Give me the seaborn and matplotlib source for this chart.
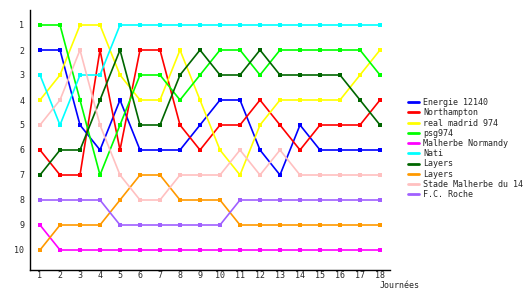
import matplotlib
matplotlib.use("Agg")
import matplotlib.pyplot as plt
import seaborn as sns
import pandas as pd
from matplotlib.lines import Line2D

days = list(range(1, 19))
team_names = ["Energie 12140", "Northampton", "real madrid 974", "psg974",
              "Malherbe Normandy", "Nati", "Layers", "Layers",
              "Stade Malherbe du 14", "F.C. Roche"]
energie = [2, 2, 5, 6, 4, 6, 6, 6, 5, 4, 4, 6, 7, 5, 6, 6, 6, 6]
northampton = [6, 7, 7, 2, 6, 2, 2, 5, 6, 5, 5, 4, 5, 6, 5, 5, 5, 4]
real_madrid = [4, 3, 1, 1, 3, 4, 4, 2, 4, 6, 7, 5, 4, 4, 4, 4, 3, 2]
psg = [1, 1, 4, 7, 5, 3, 3, 4, 3, 2, 2, 3, 2, 2, 2, 2, 2, 3]
malherbe_normandy = [9, 10, 10, 10, 10, 10, 10, 10, 10, 10, 10, 10, 10, 10, 10, 10, 10, 10]
nati = [3, 5, 3, 3, 1, 1, 1, 1, 1, 1, 1, 1, 1, 1, 1, 1, 1, 1]
layers_a = [7, 6, 6, 4, 2, 5, 5, 3, 2, 3, 3, 2, 3, 3, 3, 3, 4, 5]
layers_b = [10, 9, 9, 9, 8, 7, 7, 8, 8, 8, 9, 9, 9, 9, 9, 9, 9, 9]
stade_malherbe = [5, 4, 2, 5, 7, 8, 8, 7, 7, 7, 6, 7, 6, 7, 7, 7, 7, 7]
fc_roche = [8, 8, 8, 8, 9, 9, 9, 9, 9, 9, 8, 8, 8, 8, 8, 8, 8, 8]
series = [energie, northampton, real_madrid, psg, malherbe_normandy, nati,
          layers_a, layers_b, stade_malherbe, fc_roche]
colors = ["#0000ff", "#ff0000", "#ffff00", "#00ff00", "#ff00ff", "#00ffff",
          "#006600", "#ff9900", "#ffc0c0", "#a060ff"]

rows = []
for i, vals in enumerate(series):
    for d, v in zip(days, vals):
        rows.append({"id": i, "day": d, "rank": v})
df = pd.DataFrame(rows)

sns.set_style("white")
plt.rcParams["font.family"] = ["DejaVu Sans Mono"]

fig = plt.figure(figsize=(5.3, 3.0), dpi=100)
ax = fig.add_axes([30/530, 1-270/300, 360/530, 260/300])
palette = {i: c for i, c in enumerate(colors)}
sns.lineplot(data=df, x="day", y="rank", hue="id", palette=palette, ax=ax,
             marker="s", markersize=3, markeredgewidth=0, linewidth=1.2,
             legend=False, sort=False)

ax.set_xlim(0.5, 18.5)
ax.set_ylim(10.8, 0.4)
ax.set_xticks(days)
ax.set_xticklabels([str(d) for d in days], fontsize=6)
ax.set_yticks(range(1, 11))
ax.set_yticklabels([str(r) for r in range(1, 11)], fontsize=6)
ax.tick_params(length=0, pad=1)
ax.tick_params(axis="y", pad=4)
ax.set_xlabel("")
ax.set_ylabel("")
for s in ["top", "right"]:
    ax.spines[s].set_visible(False)
for s in ["left", "bottom"]:
    ax.spines[s].set_color("black")
    ax.spines[s].set_linewidth(1)

fig.text(380/530, 1-285/300, "Journées", fontsize=6, va="center", ha="left")

handles = [Line2D([0], [0], color=c, linewidth=2) for c in colors]
fig.legend(handles, team_names, loc="upper left",
           bbox_to_anchor=(408/530, 1-98/300), frameon=False, fontsize=6,
           handlelength=1.3, handletextpad=0.5, labelspacing=0.15,
           borderpad=0, borderaxespad=0)

fig.savefig("out.png", dpi=100)
